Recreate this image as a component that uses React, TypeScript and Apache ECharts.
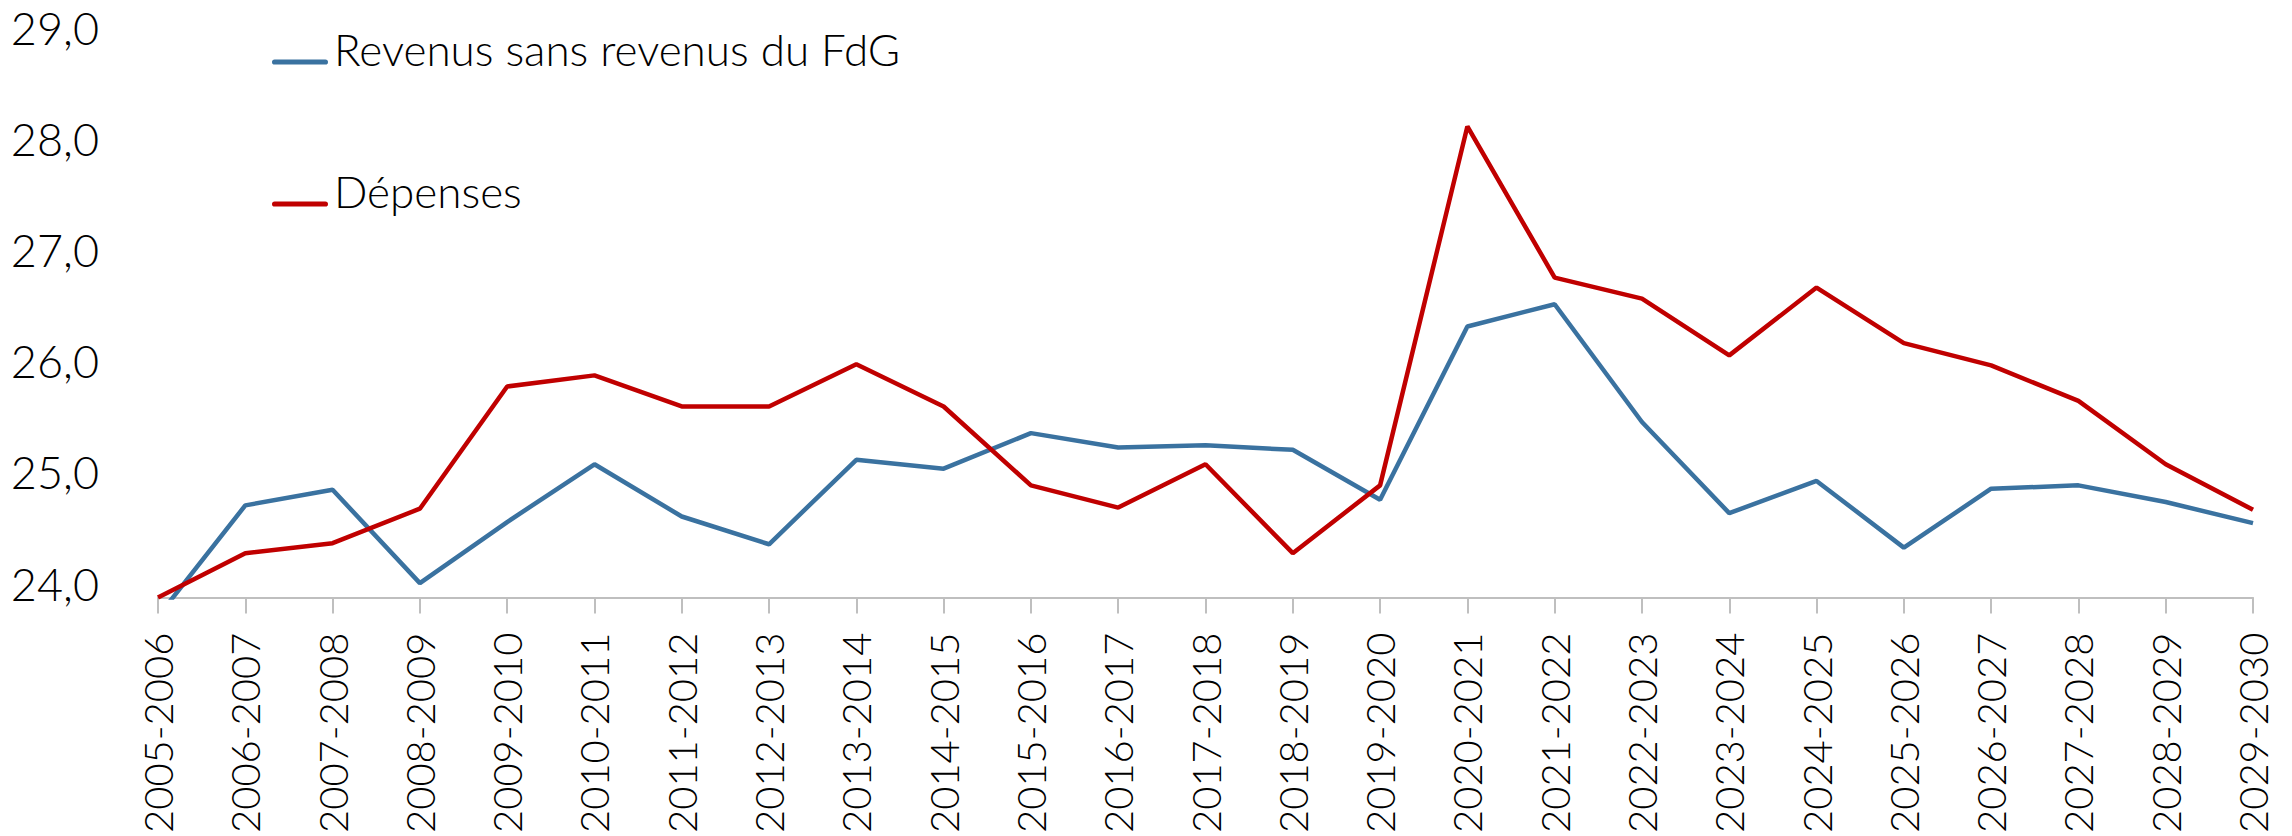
import React, { useEffect, useRef } from "react";
import * as echarts from "echarts";

const categories = [
  "2005-2006", "2006-2007", "2007-2008", "2008-2009", "2009-2010",
  "2010-2011", "2011-2012", "2012-2013", "2013-2014", "2014-2015",
  "2015-2016", "2016-2017", "2017-2018", "2018-2019", "2019-2020",
  "2020-2021", "2021-2022", "2022-2023", "2023-2024", "2024-2025",
  "2025-2026", "2026-2027", "2027-2028", "2028-2029", "2029-2030",
];

const revenusSansFdG = [
  23.83, 24.83, 24.97, 24.13, 24.68,
  25.2, 24.73, 24.48, 25.24, 25.16,
  25.48, 25.35, 25.37, 25.33, 24.88,
  26.44, 26.64, 25.58, 24.76, 25.05,
  24.45, 24.98, 25.01, 24.86, 24.67,
];

const depenses = [
  24.0, 24.4, 24.49, 24.8, 25.9,
  26.0, 25.72, 25.72, 26.1, 25.72,
  25.01, 24.81, 25.2, 24.4, 25.01,
  28.24, 26.88, 26.69, 26.18, 26.79,
  26.29, 26.09, 25.77, 25.2, 24.79,
];

const seriesNames = ["Revenus sans revenus du FdG", "Dépenses"];
const seriesColors = ["#3A72A0", "#C00000"];
const yMin = 24;
const yMax = 29;
const yStep = 1;

const FONT = "Lato, Roboto, 'Noto Sans', sans-serif";

export default function App() {
  const ref = useRef<HTMLDivElement>(null);

  useEffect(() => {
    const chart = echarts.init(ref.current!, null, { renderer: "svg" });
    const legendRows = [62, 204];
    chart.setOption({
      animation: false,
      backgroundColor: "#ffffff",
      grid: { left: 158, right: 39, top: 42, bottom: 234 },
      graphic: seriesNames.flatMap((name, i) => [
        {
          type: "rect",
          x: 272,
          y: legendRows[i] - 2.6,
          shape: { width: 56, height: 5.2, r: 2.6 },
          style: { fill: seriesColors[i] },
        },
        {
          type: "text",
          x: 334,
          y: legendRows[i] - 13,
          style: {
            text: name,
            fontFamily: FONT,
            fontWeight: 300,
            fontSize: 44,
            fill: "#000000",
            verticalAlign: "middle",
            align: "left",
          },
        },
      ]),
      xAxis: {
        type: "category",
        boundaryGap: false,
        data: categories,
        axisLine: { show: true, lineStyle: { color: "#BFBFBF", width: 2 } },
        axisTick: { show: true, length: 16, lineStyle: { color: "#BFBFBF", width: 2 } },
        axisLabel: {
          interval: 0,
          rotate: 90,
          margin: 35,
          fontFamily: FONT,
          fontWeight: 300,
          fontSize: 40,
          color: "#000000",
        },
        splitLine: { show: false },
      },
      yAxis: {
        type: "value",
        min: yMin,
        max: yMax,
        interval: yStep,
        axisLine: { show: false },
        axisTick: { show: false },
        splitLine: { show: false },
        axisLabel: {
          margin: 59,
          fontFamily: FONT,
          fontWeight: 300,
          fontSize: 45,
          color: "#000000",
          verticalAlign: "bottom",
          lineHeight: 28,
          formatter: (v: number) => v.toFixed(1).replace(".", ","),
        },
      },
      series: [
        {
          name: seriesNames[0],
          type: "line",
          data: revenusSansFdG,
          symbol: "none",
          clip: true,
          color: seriesColors[0],
          lineStyle: { color: seriesColors[0], width: 4.5 },
        },
        {
          name: seriesNames[1],
          type: "line",
          data: depenses,
          symbol: "none",
          clip: true,
          color: seriesColors[1],
          lineStyle: { color: seriesColors[1], width: 4.5 },
        },
      ],
    });
    return () => chart.dispose();
  }, []);

  return (
    <div
      ref={ref}
      style={{ position: "fixed", left: 0, top: 0, width: 2292, height: 836, background: "#ffffff" }}
    />
  );
}
